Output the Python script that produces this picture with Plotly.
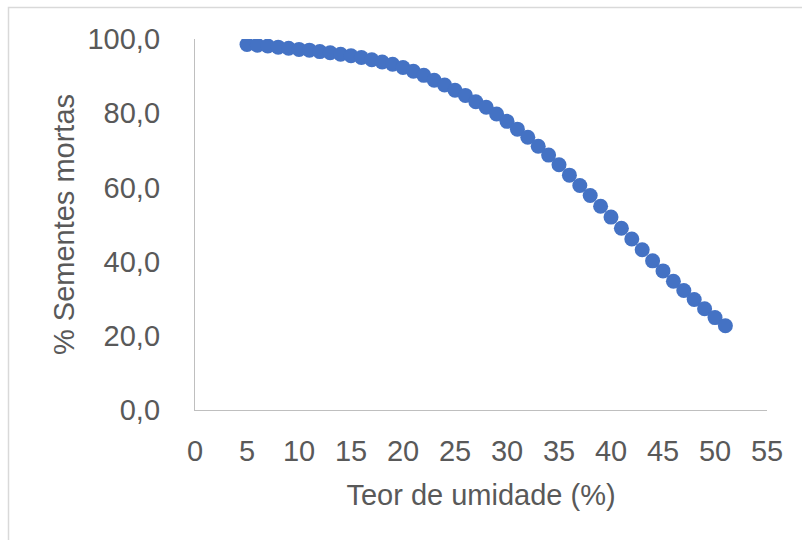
import plotly.graph_objects as go

# Moisture content (%) and dead seeds (%)
teor_umidade = list(range(5, 52))
sementes_mortas = [
    98.5, 98.3, 98.1, 97.8, 97.5, 97.2, 97.0, 96.6, 96.3, 95.9,
    95.5, 95.0, 94.4, 93.8, 93.2, 92.3, 91.3, 90.2, 88.9, 87.6,
    86.2, 84.8, 83.1, 81.6, 79.8, 77.8, 75.7, 73.5, 71.1, 68.7,
    66.1, 63.3, 60.5, 57.8, 54.9, 52.0, 49.0, 46.1, 43.2, 40.2,
    37.5, 34.7, 32.2, 29.8, 27.3, 24.9, 22.7,
]

x_ticks = list(range(0, 60, 5))
y_ticks = [0, 20, 40, 60, 80, 100]
y_tick_text = [f"{v:.1f}".replace(".", ",") for v in y_ticks]

W, H = 802, 540
ML, MR, MT, MB = 195, 35, 39, 130
PW, PH = W - ML - MR, H - MT - MB

FONT = "Liberation Sans, Arial, sans-serif"
TXT = "#595959"
AX = "#bfbfbf"

fig = go.Figure(
    go.Scatter(
        x=teor_umidade,
        y=sementes_mortas,
        mode="markers",
        marker=dict(size=15, color="#4472C4", line=dict(width=0)),
        hoverinfo="x+y",
    )
)


def px_x(p):
    return (p - ML) / PW


def px_y(p):
    return (H - MB - p) / PH


# light frame around the chart area
fig.add_shape(
    type="rect", xref="paper", yref="paper",
    x0=px_x(8.5), x1=px_x(W + 5), y0=px_y(7.5), y1=px_y(H + 5),
    line=dict(color="#d9d9d9", width=1.5), fillcolor="rgba(0,0,0,0)",
    layer="below",
)

fig.update_layout(
    width=W, height=H,
    margin=dict(l=ML, r=MR, t=MT, b=MB, autoexpand=False),
    paper_bgcolor="white", plot_bgcolor="white",
    showlegend=False,
    font=dict(family=FONT, color=TXT, size=29),
    xaxis=dict(
        range=[0, 55], tickvals=x_ticks, ticks="", showgrid=False,
        zeroline=False, showline=True, linecolor=AX, linewidth=1.3,
        ticklabelstandoff=15,
        tickfont=dict(size=29, color=TXT),
        title=dict(text="Teor de umidade (%)", font=dict(size=29, color=TXT), standoff=18),
        automargin=False,
    ),
    yaxis=dict(
        range=[0, 100], tickvals=y_ticks, ticktext=y_tick_text, ticks="",
        showgrid=False, zeroline=False, showline=True, linecolor=AX,
        linewidth=1.3, ticklabelstandoff=28,
        tickfont=dict(size=29, color=TXT),
        title=dict(text="% Sementes mortas", font=dict(size=29, color=TXT), standoff=4),
        automargin=False,
    ),
)

fig.write_html("out.html")
